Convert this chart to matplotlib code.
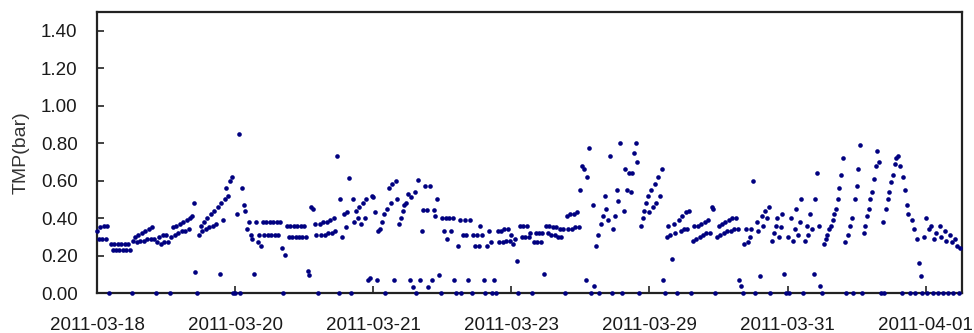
import matplotlib
matplotlib.use("Agg")
import matplotlib.pyplot as plt
import numpy as np

# Category labels shown on the x axis (one every 80 samples)
date_labels = ["2011-03-18", "2011-03-20", "2011-03-21", "2011-03-23",
               "2011-03-29", "2011-03-31", "2011-04-01"]
samples_per_label = 80

# TMP readings (bar), in time order, one list per labelled stretch
tmp_0318 = [0.33, 0.29, 0.35, 0.29, 0.36, 0.29, 0.36, 0.00, 0.26, 0.23,
            0.26, 0.23, 0.26, 0.23, 0.26, 0.23, 0.26, 0.23, 0.26, 0.23,
            0.00, 0.28, 0.30, 0.27, 0.31, 0.28, 0.32, 0.28, 0.33, 0.29,
            0.34, 0.29, 0.35, 0.29, 0.00, 0.27, 0.30, 0.26, 0.31, 0.27,
            0.31, 0.27, 0.00, 0.30, 0.35, 0.31, 0.36, 0.32, 0.37, 0.33,
            0.38, 0.33, 0.39, 0.34, 0.40, 0.41, 0.48, 0.11, 0.00, 0.31,
            0.36, 0.33, 0.38, 0.34, 0.40, 0.35, 0.42, 0.36, 0.44, 0.37,
            0.46, 0.10, 0.48, 0.39, 0.50, 0.56, 0.52, 0.60, 0.62, 0.00]
tmp_0320 = [0.00, 0.42, 0.85, 0.00, 0.56, 0.47, 0.44, 0.34, 0.38, 0.31,
            0.29, 0.10, 0.38, 0.27, 0.31, 0.25, 0.38, 0.31, 0.38, 0.31,
            0.38, 0.31, 0.38, 0.31, 0.38, 0.31, 0.38, 0.24, 0.00, 0.205,
            0.355, 0.30, 0.355, 0.30, 0.36, 0.30, 0.36, 0.30, 0.36, 0.30,
            0.36, 0.30, 0.12, 0.095, 0.46, 0.45, 0.37, 0.31, 0.00, 0.37,
            0.31, 0.38, 0.31, 0.38, 0.32, 0.39, 0.32, 0.40, 0.33, 0.73,
            0.00, 0.50, 0.30, 0.42, 0.35, 0.43, 0.615, 0.00, 0.50, 0.38,
            0.44, 0.40, 0.46, 0.37, 0.48, 0.40, 0.50, 0.07, 0.08, 0.52]
tmp_0321 = [0.51, 0.43, 0.07, 0.33, 0.34, 0.38, 0.42, 0.00, 0.45, 0.56,
            0.48, 0.58, 0.07, 0.60, 0.50, 0.37, 0.40, 0.44, 0.47, 0.48,
            0.53, 0.07, 0.51, 0.03, 0.54, 0.00, 0.605, 0.07, 0.33, 0.445,
            0.57, 0.445, 0.03, 0.57, 0.07, 0.445, 0.41, 0.50, 0.095, 0.00,
            0.40, 0.33, 0.40, 0.29, 0.40, 0.33, 0.40, 0.07, 0.00, 0.25,
            0.39, 0.00, 0.31, 0.39, 0.31, 0.07, 0.39, 0.00, 0.31, 0.25,
            0.31, 0.25, 0.36, 0.31, 0.07, 0.00, 0.25, 0.33, 0.27, 0.00,
            0.07, 0.00, 0.33, 0.27, 0.33, 0.27, 0.34, 0.28, 0.34, 0.28]
tmp_0323 = [0.31, 0.26, 0.29, 0.17, 0.00, 0.355, 0.30, 0.355, 0.30, 0.355,
            0.30, 0.32, 0.00, 0.27, 0.32, 0.27, 0.32, 0.27, 0.32, 0.10,
            0.36, 0.32, 0.36, 0.31, 0.35, 0.31, 0.35, 0.30, 0.34, 0.30,
            0.34, 0.00, 0.41, 0.34, 0.42, 0.34, 0.42, 0.35, 0.43, 0.35,
            0.55, 0.68, 0.66, 0.07, 0.62, 0.775, 0.00, 0.47, 0.04, 0.25,
            0.31, 0.00, 0.37, 0.41, 0.52, 0.45, 0.39, 0.73, 0.00, 0.34,
            0.41, 0.55, 0.49, 0.80, 0.00, 0.44, 0.66, 0.55, 0.64, 0.54,
            0.64, 0.75, 0.80, 0.70, 0.00, 0.36, 0.40, 0.44, 0.48, 0.52]
tmp_0329 = [0.43, 0.55, 0.46, 0.58, 0.48, 0.62, 0.52, 0.66, 0.07, 0.00,
            0.30, 0.355, 0.31, 0.18, 0.37, 0.32, 0.00, 0.39, 0.33, 0.41,
            0.34, 0.43, 0.34, 0.44, 0.00, 0.28, 0.355, 0.29, 0.36, 0.30,
            0.37, 0.31, 0.38, 0.32, 0.39, 0.32, 0.46, 0.45, 0.00, 0.30,
            0.36, 0.31, 0.37, 0.32, 0.38, 0.33, 0.39, 0.33, 0.40, 0.34,
            0.40, 0.34, 0.07, 0.04, 0.00, 0.26, 0.34, 0.27, 0.30, 0.34,
            0.60, 0.00, 0.38, 0.33, 0.09, 0.41, 0.36, 0.44, 0.40, 0.46,
            0.00, 0.28, 0.32, 0.36, 0.40, 0.30, 0.35, 0.42, 0.10, 0.00]
tmp_0331 = [0.30, 0.00, 0.40, 0.28, 0.34, 0.45, 0.31, 0.38, 0.50, 0.00,
            0.28, 0.36, 0.31, 0.42, 0.34, 0.10, 0.50, 0.64, 0.36, 0.04,
            0.00, 0.26, 0.29, 0.31, 0.34, 0.36, 0.39, 0.42, 0.45, 0.50,
            0.56, 0.63, 0.72, 0.27, 0.00, 0.31, 0.36, 0.40, 0.00, 0.50,
            0.57, 0.66, 0.79, 0.00, 0.32, 0.36, 0.41, 0.45, 0.50, 0.54,
            0.61, 0.68, 0.76, 0.70, 0.00, 0.38, 0.00, 0.45, 0.50, 0.54,
            0.59, 0.63, 0.69, 0.72, 0.73, 0.68, 0.00, 0.62, 0.55, 0.47,
            0.42, 0.00, 0.39, 0.34, 0.00, 0.29, 0.16, 0.09, 0.00, 0.30,
            0.40, 0.00, 0.34, 0.36, 0.00, 0.29, 0.32, 0.00, 0.36, 0.30,
            0.00, 0.33, 0.28, 0.00, 0.31, 0.27, 0.00, 0.29, 0.25, 0.00,
            0.24]

series = [tmp_0318, tmp_0320, tmp_0321, tmp_0323, tmp_0329, tmp_0331]
tmp_values = np.concatenate([np.asarray(s, dtype=float) for s in series])
sample_index = np.arange(len(tmp_values))

fig = plt.figure(figsize=(9.74, 3.33), dpi=100)
ax = fig.add_axes([97 / 974, 1 - 293 / 333, (962 - 97) / 974, (293 - 12) / 333])

ax.scatter(sample_index, tmp_values, s=11, color="#000080", marker="o",
           linewidths=0, zorder=3, clip_on=False)

ax.set_xlim(0, len(tmp_values))
ax.set_ylim(0, 1.5)

ax.set_yticks(np.arange(0, 1.41, 0.2))
ax.set_yticklabels([f"{v:.2f}" for v in np.arange(0, 1.41, 0.2)])
ax.set_xticks(np.arange(len(date_labels)) * samples_per_label)
ax.set_xticklabels(date_labels)

font = "Liberation Sans"
for lbl in ax.get_xticklabels() + ax.get_yticklabels():
    lbl.set_fontfamily(font)
    lbl.set_fontsize(13.5)
    lbl.set_color("#1a1a1a")

ax.tick_params(axis="y", direction="in", length=5, width=1.2, pad=14, color="#222222")
ax.tick_params(axis="x", direction="in", length=5, width=1.2, pad=17, color="#222222")

for sp in ax.spines.values():
    sp.set_linewidth(1.6)
    sp.set_color("#222222")

ax.set_ylabel("TMP(bar)", fontfamily=font, fontsize=14, color="#333333", labelpad=8)

fig.savefig("out.png", dpi=100)
